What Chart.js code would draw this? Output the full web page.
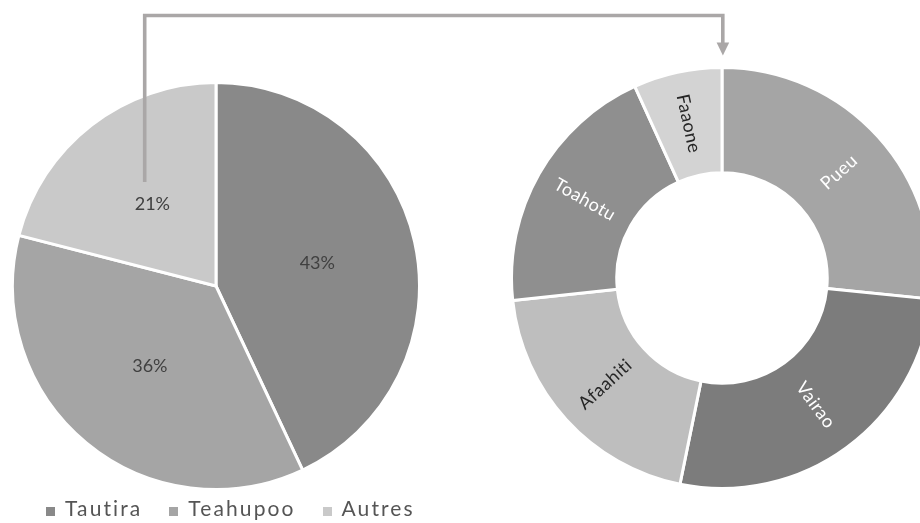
<!DOCTYPE html>
<html>
<head>
<meta charset="utf-8">
<script src="https://cdn.jsdelivr.net/npm/chart.js@4.4.0/dist/chart.umd.min.js"></script>
<style>
  html, body { margin: 0; padding: 0; background: #fff; width: 920px; height: 523px; overflow: hidden; }
  #stage { position: relative; width: 920px; height: 523px; overflow: hidden; }
  #pieBox { position: absolute; left: 10.5px; top: 81px; width: 410px; height: 410px; }
  #ringBox { position: absolute; left: 510px; top: 66px; width: 424px; height: 424px; }
  #link { position: absolute; left: 0; top: 0; pointer-events: none; }
  #legend { position: absolute; left: 46px; top: 495px; display: flex; font-family: Lato, "Open Sans", sans-serif;
            font-size: 21px; line-height: 25px; color: #555555; letter-spacing: 2.1px; white-space: nowrap; }
  #legend .item { margin-right: 27px; }
  #legend .swatch { display: inline-block; width: 9px; height: 9px; margin-right: 10px; vertical-align: baseline; }
</style>
</head>
<body>
<div id="stage">
  <div id="pieBox"><canvas id="pie"></canvas></div>
  <div id="ringBox"><canvas id="ring"></canvas></div>
  <svg id="link" width="920" height="523">
    <path d="M144.7 182 V15.5 H722.8 V44" fill="none" stroke="#aaa7a7" stroke-width="3.6" stroke-linejoin="miter"/>
    <path d="M716.6 42.5 L729.2 42.5 L722.9 55.5 Z" fill="#aaa7a7"/>
  </svg>
  <div id="legend"></div>
</div>
<script>
// Share of the three main sites
const pieLabels = ['Tautira', 'Teahupoo', 'Autres'];
const pieValues = [43, 36, 21];
const pieColors = ['#898989', '#a5a5a5', '#c9c9c9'];

// Breakdown of "Autres"
const ringLabels = ['Pueu', 'Vairao', 'Afaahiti', 'Toahotu', 'Faaone'];
const ringValues = [26.6, 26.6, 20.1, 19.9, 6.8];
const ringColors = ['#a5a5a5', '#7c7c7c', '#bebebe', '#8f8f8f', '#d3d3d3'];
const ringTextColors = ['#ffffff', '#ffffff', '#262626', '#ffffff', '#262626'];

// Writes a text label inside every slice, optionally turned along the radius
const sliceLabels = {
  id: 'sliceLabels',
  afterDatasetsDraw(chart, args, opts) {
    const ctx = chart.ctx;
    const meta = chart.getDatasetMeta(0);
    meta.data.forEach((arc, i) => {
      const p = arc.getProps(['x', 'y', 'startAngle', 'endAngle', 'innerRadius', 'outerRadius'], true);
      const mid = (p.startAngle + p.endAngle) / 2;
      const r = p.innerRadius + (p.outerRadius - p.innerRadius) * opts.radiusRatio;
      ctx.save();
      ctx.translate(p.x + Math.cos(mid) * r, p.y + Math.sin(mid) * r);
      if (opts.radial) {
        let rot = Math.atan2(Math.sin(mid), Math.cos(mid));
        if (rot > Math.PI / 2) rot -= Math.PI;
        if (rot < -Math.PI / 2) rot += Math.PI;
        ctx.rotate(rot);
      }
      ctx.font = opts.font;
      if ('letterSpacing' in ctx) ctx.letterSpacing = opts.letterSpacing || '0px';
      ctx.fillStyle = opts.colors[i];
      ctx.textAlign = 'center';
      ctx.textBaseline = 'middle';
      ctx.fillText(opts.text(i), 0, 0);
      ctx.restore();
    });
  }
};

Chart.defaults.animation = false;

const pieChart = new Chart(document.getElementById('pie'), {
  type: 'pie',
  data: {
    labels: pieLabels,
    datasets: [{ data: pieValues, backgroundColor: pieColors, borderColor: '#ffffff', borderWidth: 3 }]
  },
  options: {
    responsive: true,
    maintainAspectRatio: false,
    layout: { padding: 0 },
    plugins: {
      legend: { display: false },
      tooltip: { enabled: false },
      sliceLabels: {
        radiusRatio: 0.51,
        radial: false,
        font: '18px Lato, "Open Sans", sans-serif',
        colors: ['#404040', '#404040', '#404040'],
        text: i => pieValues[i] + '%'
      }
    }
  },
  plugins: [sliceLabels]
});

new Chart(document.getElementById('ring'), {
  type: 'doughnut',
  data: {
    labels: ringLabels,
    datasets: [{ data: ringValues, backgroundColor: ringColors, borderColor: '#ffffff', borderWidth: 3 }]
  },
  options: {
    responsive: true,
    maintainAspectRatio: false,
    cutout: '50%',
    layout: { padding: 0 },
    plugins: {
      legend: { display: false },
      tooltip: { enabled: false },
      sliceLabels: {
        radiusRatio: 0.5,
        radial: true,
        font: '18px Lato, "Open Sans", sans-serif',
        letterSpacing: '0.5px',
        colors: ringTextColors,
        text: i => ringLabels[i]
      }
    }
  },
  plugins: [sliceLabels]
});

// Legend for the pie, built from the chart's own legend items
const legendEl = document.getElementById('legend');
pieChart.options.plugins.legend.labels.generateLabels(pieChart).forEach(item => {
  const span = document.createElement('span');
  span.className = 'item';
  const sw = document.createElement('span');
  sw.className = 'swatch';
  sw.style.background = item.fillStyle;
  span.appendChild(sw);
  span.appendChild(document.createTextNode(item.text));
  legendEl.appendChild(span);
});
</script>
</body>
</html>
